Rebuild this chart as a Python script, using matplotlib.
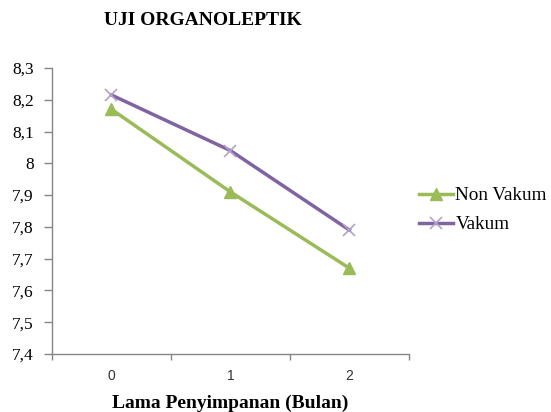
import matplotlib
matplotlib.use("Agg")
import matplotlib.pyplot as plt
from matplotlib.ticker import FixedLocator, FuncFormatter

categories = ["0", "1", "2"]
non_vakum = [8.17, 7.91, 7.67]
vakum = [8.215, 8.04, 7.79]
y_ticks = [7.4, 7.5, 7.6, 7.7, 7.8, 7.9, 8.0, 8.1, 8.2, 8.3]

GREEN = "#9BBB59"
PURPLE = "#8064A2"
AXIS = "#868686"
serif = "Liberation Serif"

fig = plt.figure(figsize=(5.51, 4.12), dpi=100)
ax = fig.add_axes([0.0944, 0.1408, 0.6476, 0.6942])

x = list(range(len(categories)))
ax.plot(x, non_vakum, color=GREEN, lw=2.5, marker="^", markersize=8,
        markerfacecolor=GREEN, markeredgecolor=GREEN, label="Non Vakum")
ax.plot(x, vakum, color=PURPLE, lw=2.5, marker="x", markersize=9,
        markeredgecolor="#B3A2C7", markeredgewidth=1.2, label="Vakum")

ax.set_xlim(-0.5, 2.5)
ax.set_ylim(7.4, 8.3)
ax.set_yticks(y_ticks)

def fmt(v, pos):
    s = ("%.1f" % v)
    if s.endswith(".0"):
        s = s[:-2]
    return s.replace(".", ",")

ax.yaxis.set_major_formatter(FuncFormatter(fmt))
ax.set_xticks(x)
ax.set_xticklabels(categories)
ax.xaxis.set_minor_locator(FixedLocator([-0.5, 0.5, 1.5, 2.5]))
ax.tick_params(axis="x", which="major", length=0, pad=11, labelsize=10)
ax.tick_params(axis="x", which="minor", length=4, color=AXIS, width=1)
ax.tick_params(axis="y", length=6, color=AXIS, width=1, labelsize=12.5, pad=7)
for lab in ax.get_yticklabels():
    lab.set_fontfamily(serif)
for lab in ax.get_xticklabels():
    lab.set_fontfamily("Liberation Sans")
    lab.set_color("#333333")

for s in ["top", "right"]:
    ax.spines[s].set_visible(False)
for s in ["left", "bottom"]:
    ax.spines[s].set_color(AXIS)
    ax.spines[s].set_linewidth(1)

fig.text(0.3675, 0.951, "UJI ORGANOLEPTIK", ha="center", va="center",
         fontsize=14, fontweight="bold", fontfamily=serif)
fig.text(0.417, 0.022, "Lama Penyimpanan (Bulan)", ha="center", va="center",
         fontsize=14, fontweight="bold", fontfamily=serif)

leg = fig.legend(loc="center left", bbox_to_anchor=(0.736, 0.49), frameon=False,
                 prop={"family": serif, "size": 13.8}, handlelength=1.8,
                 handletextpad=0.1, labelspacing=0.6, borderpad=0.2)

fig.savefig("out.png", dpi=100)
